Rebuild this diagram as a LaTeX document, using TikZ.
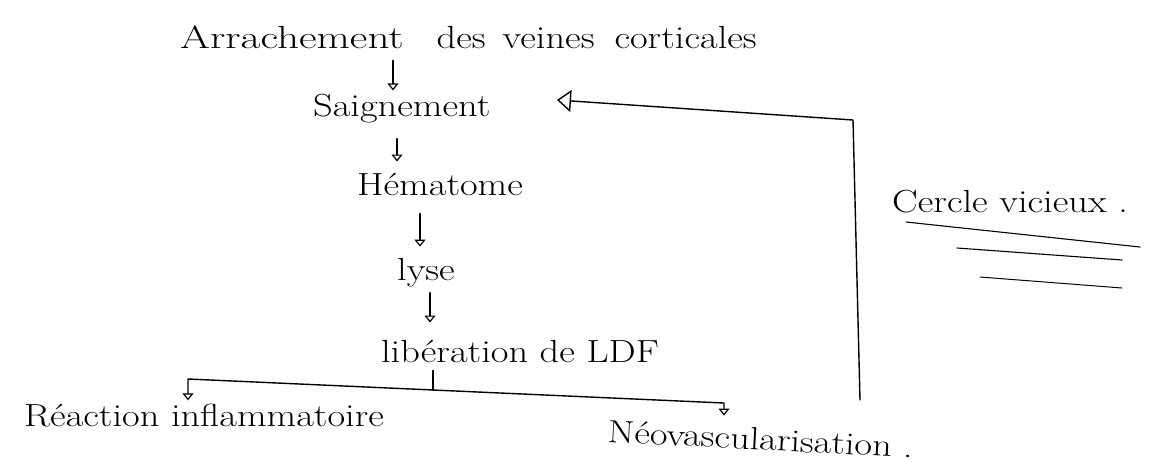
\documentclass[tikz,border=0pt]{standalone}
\usetikzlibrary{arrows.meta}
\newcommand{\handw}[1]{\scalebox{1.2}[1]{#1}}
\begin{document}
\begin{tikzpicture}[x=1pt,y=-1pt,
  hw/.style={font=\fontsize{32}{38}\selectfont, inner sep=0pt},
  link/.style={line width=1.4pt, line cap=round, line join=round},
  arr/.style={link, -{Triangle[open,length=7pt,width=11pt,line width=1.2pt]}},
  bigarr/.style={link, -{Triangle[open,length=14pt,width=22pt,line width=1.4pt]}}]
\useasboundingbox (0,0) rectangle (1170,464);
% texts
\node[hw, anchor=base west] (n1) at (180,48) {\scalebox{1.35}[1]{Arrachement}\hspace{33pt}\handw{des}\hspace{17pt}\handw{veines}\hspace{20pt}\handw{corticales}};
\node[hw, anchor=base west] (n2) at (313,116) {\handw{Saignement}};
\node[hw, anchor=base] (n3) at (440,195) {\handw{Hématome}};
\node[hw, anchor=base] (n4) at (426,280) {\handw{lyse}};
\node[hw, anchor=base] (n5) at (520,362) {\handw{libération de LDF}};
\node[hw, anchor=base] (n6) at (204,426) {\handw{Réaction inflammatoire}};
\node[hw, anchor=base, rotate=-3] (n7) at (760,450) {\handw{Néovascularisation .}};
\node[hw, anchor=base west] (n8) at (892,212) {\handw{Cercle vicieux .}};
% column coordinates
\coordinate (x1) at (393,0);
\coordinate (x2) at (397,0);
\coordinate (x3) at (420,0);
\coordinate (x4) at (430,0);
% main chain
\draw[arr, shorten <=12pt, shorten >=3pt] (n1.south -| x1) -- (n2.north -| x1);
\draw[arr, shorten <=16pt, shorten >=11pt] (n2.south -| x2) -- (n3.north -| x2);
\draw[arr, shorten <=18pt, shorten >=11pt] (n3.south -| x3) -- (n4.north -| x3);
\draw[arr, shorten <=6pt, shorten >=17pt] (n4.south -| x4) -- (n5.north -| x4);
% branch
\coordinate (j) at (433,390);
\coordinate (l1) at (188,379);
\coordinate (r1) at (724,403);
\draw[link, shorten <=8pt] (n5.south -| j) -- (j);
\draw[arr, shorten >=3pt] (j) -- (l1) -- (n6.north -| l1);
\draw[arr, shorten >=12pt] (j) -- (r1) -- (n7.north -| r1);
% feedback loop
\coordinate (fb) at (860,400);
\coordinate (fc) at (853,120);
\coordinate (fa) at (557,100);
\draw[bigarr] (fb) -- (fc) -- (fa);
% underlines of Cercle vicieux
\draw[link, line width=1.1pt] (906,222) -- (1140,247);
\draw[link, line width=1.1pt] (957,248) -- (1122,260);
\draw[link, line width=1.0pt] (980,277) -- (1122,288);
\end{tikzpicture}
\end{document}
